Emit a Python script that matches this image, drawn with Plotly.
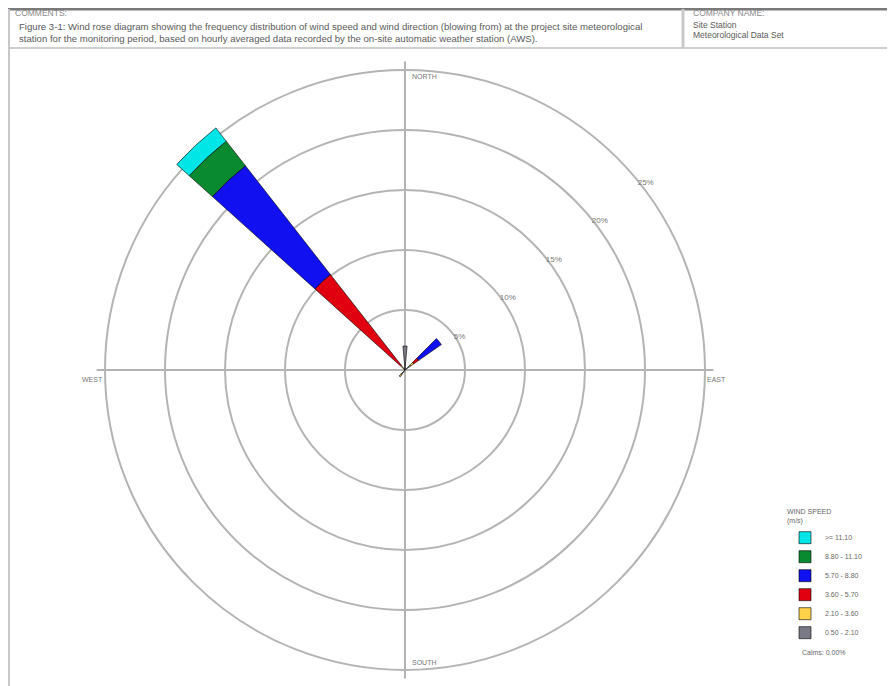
import plotly.graph_objects as go

# ---- data (percent frequency) ----
directions = [317, 0, 50, 220]
speed_classes = ["0.50 - 2.10", "2.10 - 3.60", "3.60 - 5.70", "5.70 - 8.80", "8.80 - 11.10", ">= 11.10"]
class_colors = ["#7A7A86", "#FFD24A", "#E00010", "#1010F0", "#0A8A30", "#00E5E5"]
freq_0_5_2_1 = [0.2, 2.0, 0.6, 0.5]
freq_2_1_3_6 = [0.3, 0.0, 0.3, 0.2]
freq_3_6_5_7 = [9.6, 0.0, 0.5, 0.0]
freq_5_7_8_8 = [11.5, 0.0, 2.3, 0.0]
freq_8_8_11_1 = [2.6, 0.0, 0.0, 0.0]
freq_ge_11_1 = [1.4, 0.0, 0.0, 0.0]
ring_values = [5, 10, 15, 20, 25]
ring_labels = ["5%", "10%", "15%", "20%", "25%"]
calms_text = "Calms: 0.00%"

series = [freq_0_5_2_1, freq_2_1_3_6, freq_3_6_5_7, freq_5_7_8_8, freq_8_8_11_1, freq_ge_11_1]

W, H = 895, 686
OFF = 8  # page body margin in the browser
def px(x):
    return (x - OFF) / W
def py(y):
    return 1 - (y - OFF) / H

fig = go.Figure()
for name, col, vals in zip(speed_classes, class_colors, series):
    fig.add_trace(go.Barpolar(
        r=vals, theta=directions, width=[10] * len(directions), name=name,
        marker=dict(color=col, line=dict(color="#000000", width=0.6)),
    ))

RMAX = 25.7
cx, cy = 405, 370
R = 300 * RMAX / 25
fig.update_layout(
    width=W, height=H,
    margin=dict(l=0, r=0, t=0, b=0),
    paper_bgcolor="white",
    font=dict(family="Liberation Sans, Arial, sans-serif", size=8, color="#555555"),
    barmode="stack",
    polar=dict(
        domain=dict(x=[px(cx - R), px(cx + R)], y=[py(cy + R), py(cy - R)]),
        bgcolor="white",
        radialaxis=dict(range=[0, RMAX], tickvals=ring_values, ticktext=ring_labels,
                        angle=40, tickangle=40, showline=False, ticks="", gridcolor="#B4B4B4", gridwidth=1.6,
                        tickfont=dict(size=8, color="#777777")),
        angularaxis=dict(rotation=90, direction="clockwise", dtick=90, showticklabels=False,
                         ticks="", showline=False,
                         gridcolor="#B4B4B4", gridwidth=1.6),
    ),
    legend=dict(
        x=px(785), y=py(505), xanchor="left", yanchor="top",
        traceorder="reversed", bgcolor="rgba(0,0,0,0)",
        font=dict(size=7, color="#666666"),
        title=dict(text="WIND SPEED<br>(m/s)", font=dict(size=7, color="#666666")),
        itemwidth=30, tracegroupgap=0,
    ),
    showlegend=True,
)

shapes = [
    dict(type="line", xref="paper", yref="paper", x0=px(8), x1=px(905), y0=py(9), y1=py(9),
         line=dict(color="#7A7A7A", width=3)),
    dict(type="line", xref="paper", yref="paper", x0=px(8), x1=px(905), y0=py(48), y1=py(48),
         line=dict(color="#CFCFCF", width=2)),
    dict(type="line", xref="paper", yref="paper", x0=px(9), x1=px(9), y0=py(9), y1=py(700),
         line=dict(color="#C8C8C8", width=2)),
    dict(type="line", xref="paper", yref="paper", x0=px(683), x1=px(683), y0=py(9), y1=py(48),
         line=dict(color="#C8C8C8", width=3)),
]
fig.update_layout(shapes=shapes)

ann = []
def text(x, y, s, size=8, color="#555555", xanchor="left"):
    ann.append(dict(x=px(x), y=py(y), xref="paper", yref="paper", text=s,
                    showarrow=False, xanchor=xanchor, yanchor="middle",
                    font=dict(size=size, color=color)))

text(13, 13, "COMMENTS:", 8.5, "#888888")
text(17, 26, "Figure 3-1: Wind rose diagram showing the frequency distribution of wind speed and wind direction (blowing from) at the project site meteorological", 9.6, "#5A5A5A")
text(17, 39, "station for the monitoring period, based on hourly averaged data recorded by the on-site automatic weather station (AWS).", 9.6, "#5A5A5A")
text(691, 13, "COMPANY NAME:", 8.5, "#888888")
text(691, 25, "Site Station", 8.5, "#5A5A5A")
text(691, 35, "Meteorological Data Set", 8.5, "#5A5A5A")

# compass labels
text(410, 76, "NORTH", 7, "#777777")
text(410, 662, "SOUTH", 7, "#777777")
text(80, 379, "WEST", 7, "#777777")
text(705, 379, "EAST", 7, "#777777")

text(800, 652, calms_text, 7, "#666666")
fig.update_layout(annotations=ann)

fig.write_html("out.html")
